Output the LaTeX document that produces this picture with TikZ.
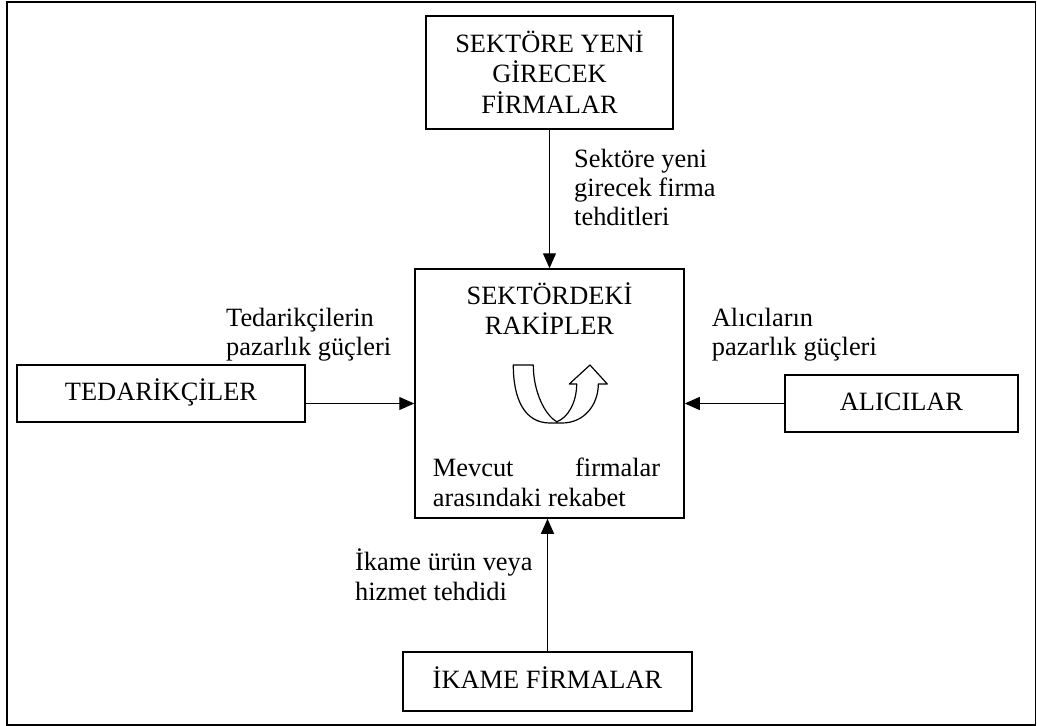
\documentclass[tikz,border=0pt]{standalone}
\usepackage{fontspec}
\setmainfont{Liberation Serif}
\usetikzlibrary{arrows.meta}

% stacked lines; the node's base anchor sits on the first line
\newcommand\txtlines[2]{\begin{tabular}[t]{@{}#1@{}}#2\end{tabular}}

\begin{document}
\begin{tikzpicture}[x=1pt,y=-1pt,
  every node/.style={font=\fontsize{26.4}{29.3}\selectfont, inner sep=0pt},
  box/.style={draw, line width=1.5pt, text height=18pt, text depth=4pt},
  conn/.style={line width=1.2pt, -{Triangle[length=15pt,width=13pt]}},
  lbl/.style={anchor=base west}]
\useasboundingbox (0,0) rectangle (1037,726);
\draw[line width=1.8pt] (7,2) rectangle (1035.5,725);

% forces around the industry
\node[box, minimum width=247pt, minimum height=113pt,
      text height=20pt, text depth=61pt] (newent) at (549.5,72.5)
  {\txtlines{c}{SEKTÖRE YENİ\\GİRECEK\\FİRMALAR}};
\node[box, minimum width=269pt, minimum height=249pt] (rivals) at (549.5,393.5) {};
\node[box, minimum width=288pt, minimum height=57pt] (supp) at (161,393.5) {TEDARİKÇİLER};
\node[box, minimum width=233pt, minimum height=57pt] (buy) at (901.5,403.5) {ALICILAR};
\node[box, minimum width=289pt, minimum height=59pt] (subst) at (547.5,681.5) {İKAME FİRMALAR};

% texts inside the central box
\node[anchor=base] (rivtitle) at (549.5,304) {\txtlines{c}{SEKTÖRDEKİ\\RAKİPLER}};
\node[lbl] (rivtext) at (432.7,476.7)
  {\txtlines{l}{\makebox[227.3pt][s]{Mevcut firmalar}\\arasındaki rekabet}};

% U-turn arrow symbolising rivalry
\draw[line width=1.2pt, line join=round]
  (513.3,365) .. controls (513.3,400) and (525,423) .. (550,423)
  -- (562,423) .. controls (584,423) and (598.3,405) .. (598.3,384)
  -- (607.3,384) -- (590,365) -- (569.3,384) -- (576.7,384)
  .. controls (576.7,402) and (568,418) .. (556.7,421.7)
  .. controls (545,415) and (533.3,392) .. (533.3,365) -- cycle;

% connector labels
\node[lbl] (newlbl) at (574,167.3) {\txtlines{l}{Sektöre yeni\\girecek firma\\tehditleri}};
\node[lbl] (supplbl) at (226,326) {\txtlines{l}{Tedarikçilerin\\pazarlık güçleri}};
\node[lbl] (buylbl) at (711.7,326) {\txtlines{l}{Alıcıların\\pazarlık güçleri}};
\node[lbl] (subslbl) at (355,570.7) {\txtlines{l}{İkame ürün veya\\hizmet tehdidi}};

% connectors
\draw[conn] (newent.south) -- (rivals.north);
\draw[conn] (supp.east |- buy.west) -- (rivals.west |- buy.west);
\draw[conn] (buy.west) -- (rivals.east |- buy.west);
\draw[conn] (subst.north) -- (subst.north |- rivals.south);
\end{tikzpicture}
\end{document}
